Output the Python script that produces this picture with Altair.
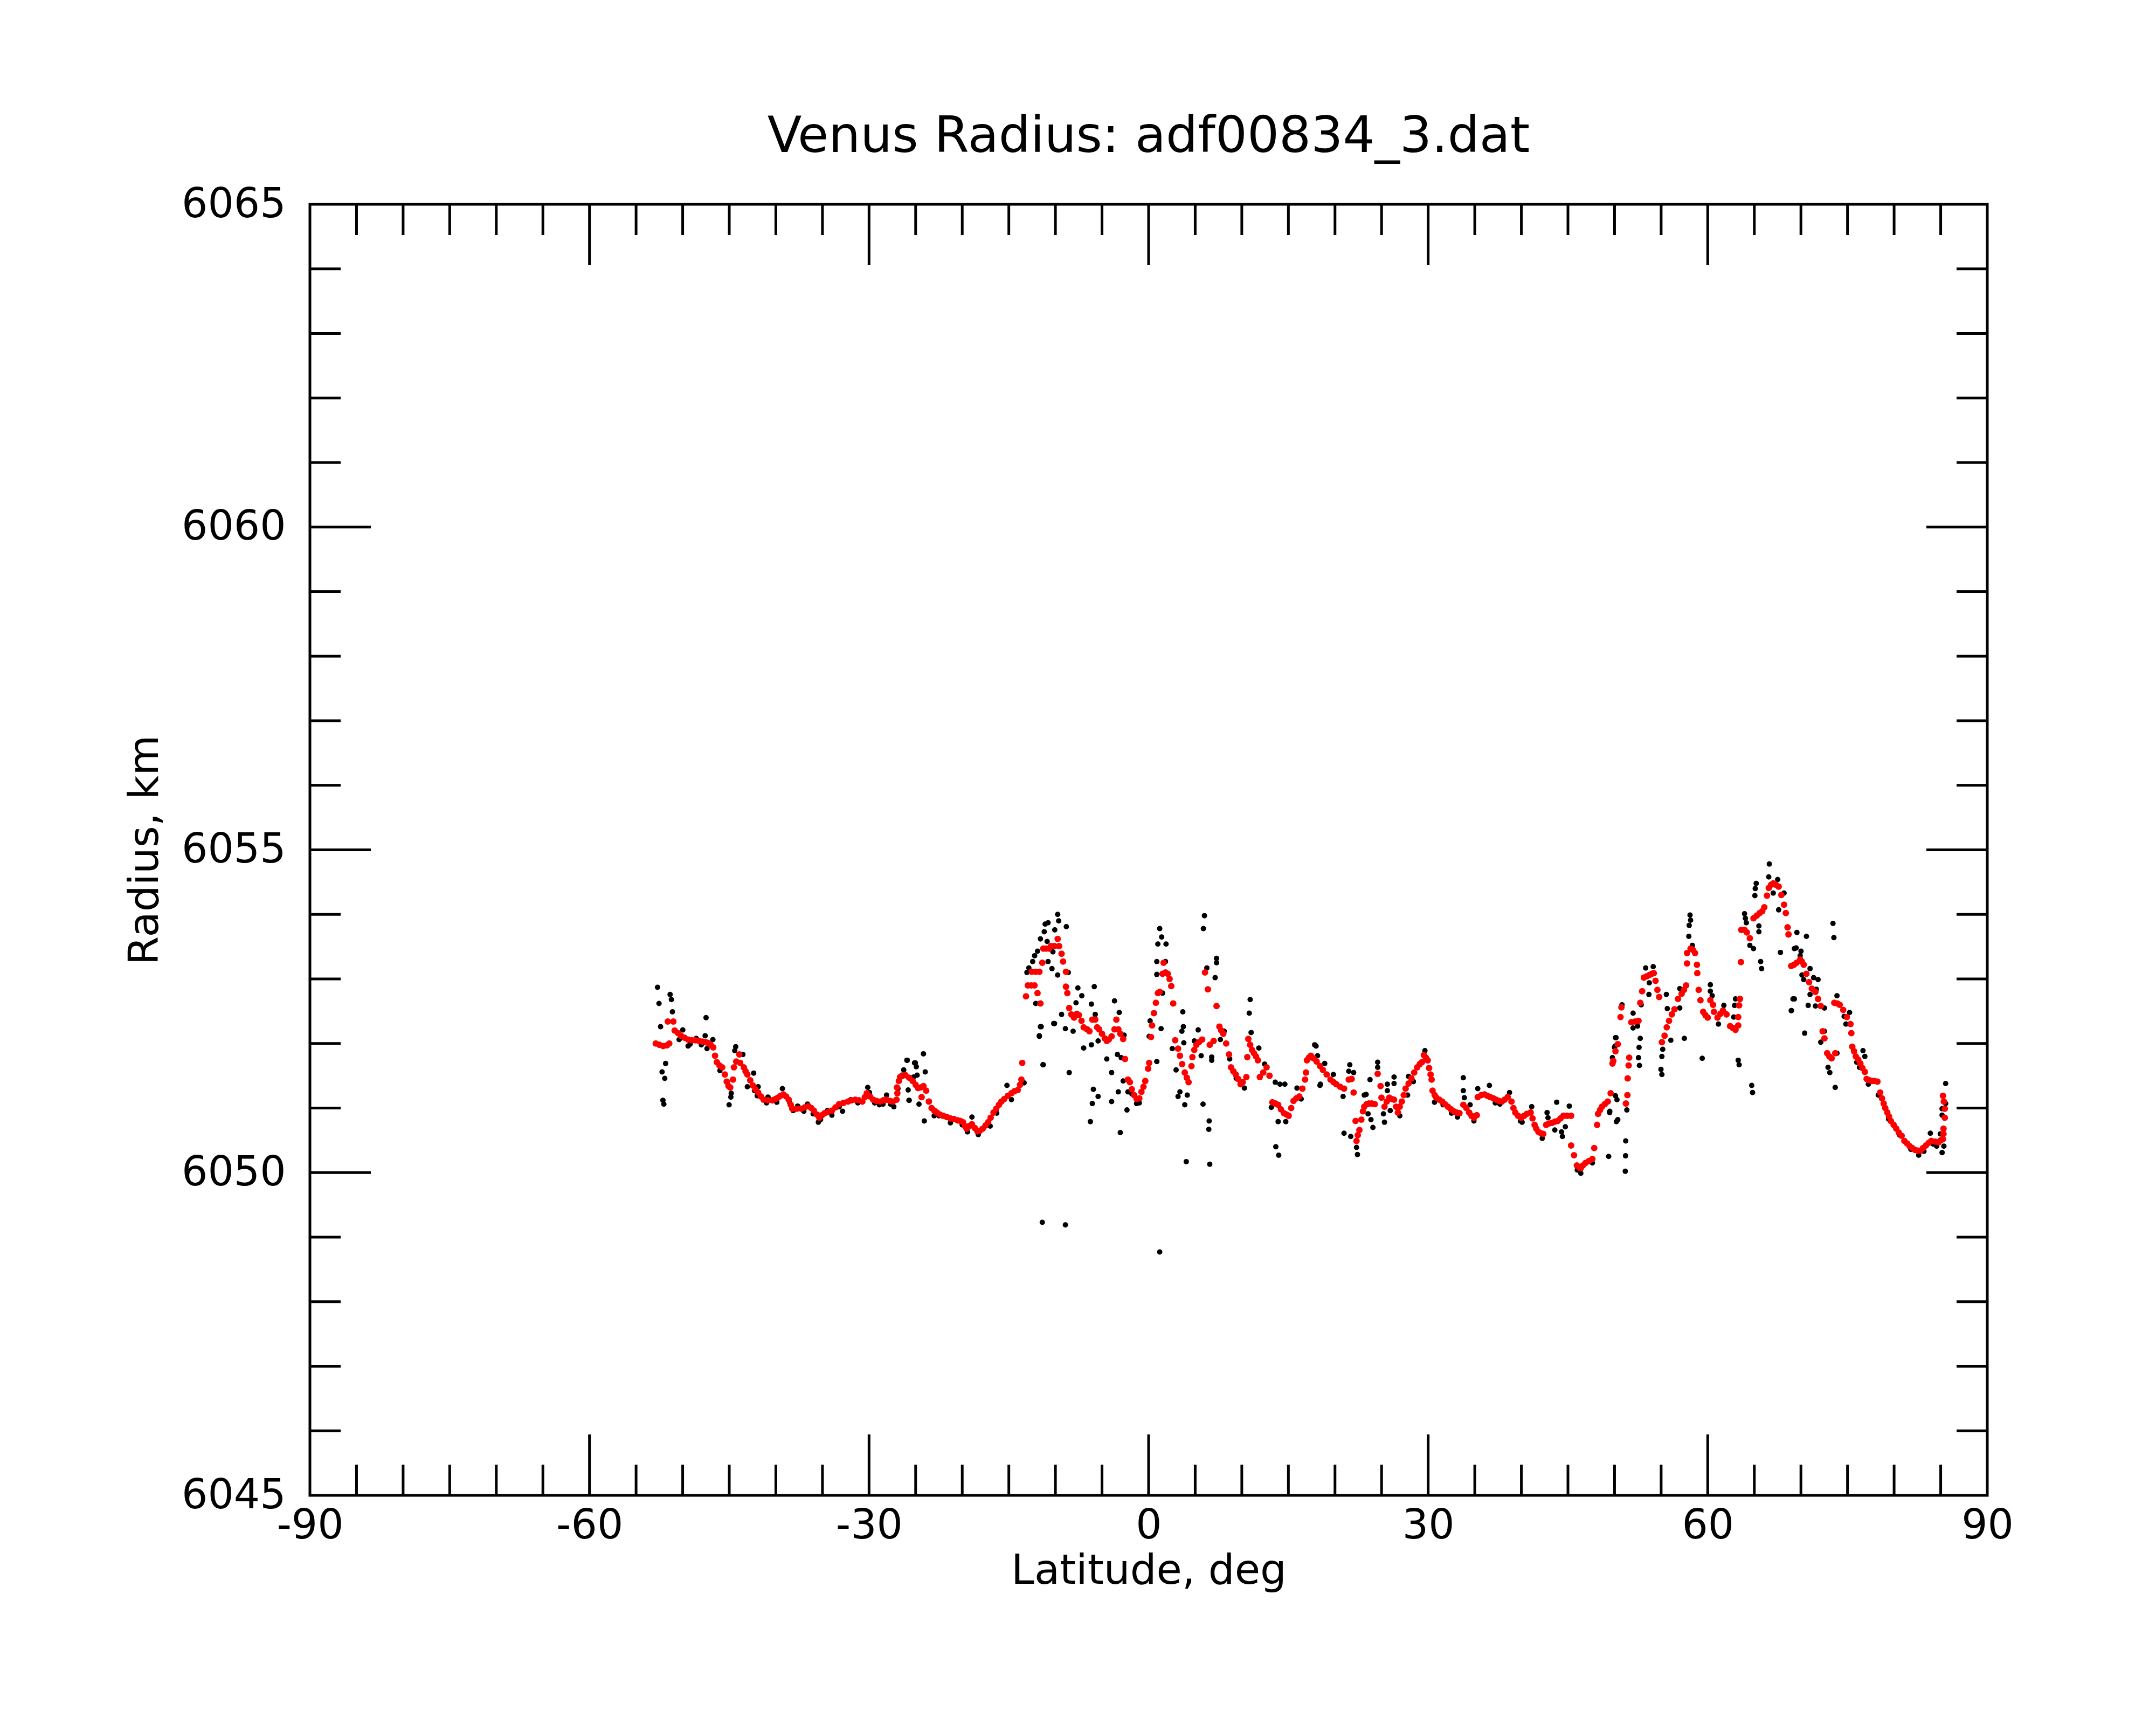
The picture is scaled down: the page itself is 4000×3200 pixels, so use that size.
import altair as alt
import pandas as pd

# ---- data (latitude deg, radius km) ----
red_points = [
    (-52.89, 6052.00), (-52.50, 6051.98), (-52.10, 6051.96), (-51.70, 6051.97), (-51.44, 6052.00),
    (-51.60, 6052.34), (-51.00, 6052.34),
    (-50.86, 6052.20), (-50.50, 6052.16), (-50.19, 6052.12), (-49.80, 6052.09), (-49.42, 6052.06),
    (-49.00, 6052.05), (-48.65, 6052.05), (-48.25, 6052.04), (-47.88, 6052.03), (-47.55, 6052.02),
    (-47.30, 6052.01), (-47.00, 6051.98), (-46.72, 6051.94), (-46.53, 6051.81), (-46.33, 6051.71),
    (-46.05, 6051.66), (-45.76, 6051.63), (-45.47, 6051.52), (-45.27, 6051.41), (-45.08, 6051.34),
    (-44.90, 6051.32), (-44.60, 6051.44), (-44.50, 6051.63), (-44.25, 6051.72), (-43.92, 6051.83),
    (-43.83, 6051.70), (-43.44, 6051.63), (-43.25, 6051.57), (-43.06, 6051.52), (-42.75, 6051.43),
    (-42.48, 6051.35), (-42.20, 6051.29), (-41.90, 6051.24), (-41.60, 6051.18), (-41.32, 6051.13),
    (-40.85, 6051.12), (-40.36, 6051.12), (-40.05, 6051.14), (-39.78, 6051.16), (-39.50, 6051.19),
    (-39.20, 6051.21), (-38.90, 6051.18), (-38.62, 6051.13), (-38.40, 6051.05), (-38.24, 6050.99),
    (-37.75, 6050.99), (-37.27, 6050.99), (-36.90, 6051.01), (-36.50, 6051.03), (-36.20, 6051.00),
    (-35.92, 6050.96), (-35.60, 6050.90), (-35.34, 6050.85), (-35.05, 6050.89), (-34.77, 6050.92),
    (-34.40, 6050.94), (-33.99, 6050.96), (-33.60, 6051.01), (-33.22, 6051.06), (-32.75, 6051.08),
    (-32.26, 6051.10), (-31.90, 6051.12), (-31.49, 6051.13), (-31.10, 6051.12), (-30.72, 6051.10),
    (-30.45, 6051.17), (-30.24, 6051.23), (-29.90, 6051.18), (-29.56, 6051.13), (-29.20, 6051.11),
    (-28.79, 6051.10), (-28.45, 6051.12), (-28.12, 6051.13), (-27.75, 6051.11), (-27.44, 6051.10),
    (-27.05, 6051.13), (-26.96, 6051.23), (-27.00, 6051.32), (-26.80, 6051.42), (-26.67, 6051.48),
    (-26.40, 6051.50), (-26.09, 6051.51), (-25.70, 6051.47), (-25.32, 6051.42),
    (-25.00, 6051.36), (-24.74, 6051.31), (-24.45, 6051.32), (-24.16, 6051.34), (-23.87, 6051.27),
    (-24.36, 6051.17), (-23.58, 6051.10), (-23.29, 6051.00), (-23.00, 6050.96), (-22.72, 6050.93),
    (-22.40, 6050.90), (-22.04, 6050.88), (-21.65, 6050.86), (-21.27, 6050.84), (-20.90, 6050.83),
    (-20.50, 6050.81), (-20.20, 6050.80), (-19.92, 6050.78), (-19.70, 6050.72), (-19.53, 6050.68),
    (-19.25, 6050.72), (-18.96, 6050.75), (-18.65, 6050.69), (-18.38, 6050.64), (-18.10, 6050.65),
    (-17.80, 6050.68), (-17.50, 6050.73), (-17.22, 6050.78), (-16.95, 6050.85), (-16.64, 6050.93),
    (-16.35, 6050.99), (-16.06, 6051.05), (-15.80, 6051.10), (-15.49, 6051.14), (-15.10, 6051.19),
    (-14.72, 6051.23), (-14.40, 6051.26), (-14.04, 6051.28), (-13.80, 6051.36), (-13.65, 6051.44),
    (-13.56, 6051.70),
    (-13.16, 6052.73), (-12.96, 6052.90), (-12.60, 6052.90), (-12.54, 6053.11), (-12.24, 6052.90),
    (-12.13, 6053.11), (-11.92, 6052.78), (-11.72, 6053.11), (-11.61, 6052.62), (-11.41, 6053.25),
    (-11.30, 6053.47), (-11.00, 6053.47), (-10.68, 6053.47), (-10.48, 6053.51), (-10.10, 6053.51),
    (-9.76, 6053.62), (-9.60, 6053.51), (-9.34, 6053.39), (-9.18, 6053.27), (-8.87, 6053.11),
    (-8.87, 6052.88), (-8.72, 6052.78), (-8.52, 6052.55), (-8.30, 6052.45), (-8.00, 6052.40),
    (-7.70, 6052.46), (-7.48, 6052.44), (-7.20, 6052.35), (-6.97, 6052.25), (-6.60, 6052.22),
    (-6.35, 6052.19), (-6.04, 6052.37), (-5.73, 6052.37), (-5.52, 6052.25), (-5.31, 6052.22),
    (-5.00, 6052.15), (-4.70, 6052.08), (-4.49, 6052.04), (-4.28, 6052.06), (-3.97, 6052.11),
    (-3.66, 6052.22), (-3.46, 6052.37), (-3.25, 6052.22), (-3.04, 6052.15), (-2.73, 6052.07),
    (-2.53, 6051.76), (-2.22, 6051.44), (-2.01, 6051.40), (-1.80, 6051.29), (-1.55, 6051.20),
    (-1.29, 6051.14), (-1.00, 6051.15), (-0.77, 6051.25), (-0.55, 6051.33), (-0.36, 6051.42),
    (-0.05, 6051.61), (0.06, 6051.70), (0.26, 6052.10), (0.37, 6052.28), (0.57, 6052.47),
    (0.78, 6052.63), (1.00, 6052.78), (1.19, 6052.80), (1.50, 6053.08), (1.61, 6053.25),
    (1.81, 6053.10), (2.05, 6053.08), (2.25, 6053.00), (2.43, 6052.89), (2.64, 6052.62),
    (2.85, 6052.05), (3.16, 6051.92), (3.36, 6051.81), (3.60, 6051.68), (3.88, 6051.55),
    (4.10, 6051.47), (4.29, 6051.40), (4.60, 6051.65), (4.70, 6051.79), (4.90, 6051.90),
    (5.12, 6051.98), (5.40, 6052.02), (5.74, 6052.06), (6.05, 6053.10), (6.36, 6052.84),
    (6.56, 6051.98), (6.98, 6052.04), (7.29, 6052.58), (7.60, 6052.26), (7.80, 6052.20),
    (8.01, 6052.15), (8.32, 6052.00), (8.63, 6051.83), (8.84, 6051.63), (9.10, 6051.57),
    (9.35, 6051.52), (9.60, 6051.45), (9.87, 6051.37), (10.10, 6051.40), (10.49, 6051.48),
    (10.59, 6051.79), (10.70, 6052.07), (10.90, 6051.98), (11.10, 6051.90), (11.31, 6051.85),
    (11.52, 6051.80), (11.73, 6051.74), (11.93, 6051.48), (12.30, 6051.55), (12.66, 6051.63),
    (12.97, 6051.50), (13.28, 6051.09), (13.60, 6051.07), (13.90, 6051.05), (14.20, 6050.98),
    (14.52, 6050.92), (14.80, 6050.90), (15.03, 6050.88), (15.30, 6051.00), (15.55, 6051.11),
    (15.85, 6051.15), (16.17, 6051.18), (16.50, 6051.30), (16.79, 6051.44), (16.89, 6051.55),
    (16.99, 6051.74), (17.20, 6051.78), (17.41, 6051.81), (17.70, 6051.77), (18.03, 6051.72),
    (18.40, 6051.65), (18.70, 6051.59), (19.11, 6051.52), (19.52, 6051.44), (19.85, 6051.40),
    (20.14, 6051.37), (20.55, 6051.33), (20.97, 6051.30), (21.48, 6051.44), (21.79, 6051.45),
    (22.00, 6051.24), (22.21, 6050.80), (22.31, 6050.49), (22.45, 6050.58), (22.62, 6050.66),
    (22.83, 6050.82), (23.00, 6050.95), (23.14, 6051.02), (23.40, 6051.06), (23.65, 6051.07),
    (23.95, 6051.07), (24.27, 6051.06), (24.58, 6051.53), (24.89, 6051.34), (24.99, 6051.16),
    (25.31, 6051.02), (25.55, 6051.10), (25.82, 6051.16), (26.10, 6051.14), (26.34, 6051.13),
    (26.55, 6051.02), (26.75, 6050.93), (26.95, 6051.02), (27.17, 6051.10), (27.38, 6051.20),
    (27.58, 6051.30), (27.90, 6051.38), (28.20, 6051.46), (28.50, 6051.55), (28.82, 6051.63),
    (29.10, 6051.68), (29.33, 6051.71), (29.54, 6051.82), (29.75, 6051.78), (29.95, 6051.74),
    (30.10, 6051.62), (30.26, 6051.52), (30.37, 6051.44), (30.47, 6051.27), (30.70, 6051.20),
    (30.88, 6051.16), (31.20, 6051.13), (31.50, 6051.10), (31.80, 6051.06), (32.12, 6051.02),
    (32.45, 6050.98), (32.74, 6050.95), (33.05, 6050.93), (33.36, 6050.92), (33.77, 6051.05),
    (34.10, 6051.00), (34.40, 6050.93), (34.65, 6050.88), (34.91, 6050.85), (35.22, 6050.89),
    (35.32, 6051.17), (35.70, 6051.20), (36.05, 6051.21), (36.35, 6051.19), (36.67, 6051.17),
    (37.00, 6051.15), (37.29, 6051.13), (37.60, 6051.11), (37.91, 6051.10), (38.20, 6051.13),
    (38.53, 6051.17), (38.94, 6051.10), (39.15, 6051.00), (39.35, 6050.93), (39.65, 6050.88),
    (39.97, 6050.85), (40.30, 6050.88), (40.59, 6050.91), (41.00, 6050.93), (41.20, 6050.84),
    (41.42, 6050.74), (41.60, 6050.68), (41.83, 6050.63), (42.10, 6050.61), (42.35, 6050.60),
    (42.66, 6050.74), (42.95, 6050.76), (43.28, 6050.77), (43.60, 6050.79), (43.90, 6050.80),
    (44.20, 6050.84), (44.52, 6050.88), (44.90, 6050.88), (45.34, 6050.88), (45.34, 6050.42),
    (45.65, 6050.27), (45.96, 6050.11), (46.20, 6050.08), (46.38, 6050.07), (46.60, 6050.11),
    (46.89, 6050.15), (47.25, 6050.18), (47.62, 6050.21), (47.82, 6050.38), (48.13, 6050.74),
    (48.23, 6050.91), (48.45, 6050.97), (48.65, 6051.02), (48.95, 6051.06), (49.27, 6051.10),
    (49.58, 6051.23), (49.78, 6051.69), (49.87, 6051.73), (50.10, 6051.88), (50.35, 6051.99),
    (50.64, 6052.41), (50.74, 6052.56), (51.22, 6051.07), (51.38, 6051.20), (51.41, 6051.46),
    (51.51, 6051.66), (51.57, 6051.78), (51.80, 6052.33), (52.20, 6052.34), (52.57, 6052.35),
    (52.76, 6052.63), (52.96, 6052.81), (53.15, 6053.02), (53.45, 6053.04), (53.73, 6053.06),
    (54.00, 6053.08), (54.21, 6053.09), (54.40, 6052.97), (54.60, 6052.83), (54.79, 6052.72),
    (55.08, 6052.02), (55.37, 6052.12), (55.60, 6052.25), (55.85, 6052.35), (56.15, 6052.45),
    (56.43, 6052.53), (56.81, 6052.69), (57.20, 6052.77), (57.45, 6052.83), (57.68, 6052.90),
    (57.78, 6053.24), (57.78, 6053.40), (58.16, 6053.47), (58.40, 6053.45), (58.64, 6053.40),
    (58.84, 6053.22), (58.88, 6053.09), (59.03, 6052.83), (59.22, 6052.67), (59.51, 6052.49),
    (59.75, 6052.44), (60.00, 6052.40), (60.28, 6052.67), (60.57, 6052.60), (60.67, 6052.49),
    (61.05, 6052.40), (61.35, 6052.46), (61.63, 6052.51), (62.02, 6052.45), (62.40, 6052.27),
    (62.70, 6052.24), (62.98, 6052.21), (63.27, 6052.28), (63.27, 6052.41), (63.37, 6052.59),
    (63.46, 6052.69), (63.56, 6053.26), (63.60, 6053.76), (63.95, 6053.76), (64.20, 6053.72),
    (64.52, 6053.63), (64.91, 6053.94), (65.25, 6053.98), (65.58, 6054.02), (65.85, 6054.05),
    (66.07, 6054.11), (66.36, 6054.29), (66.55, 6054.41), (66.80, 6054.46), (67.03, 6054.48),
    (67.30, 6054.46), (67.61, 6054.43), (67.90, 6054.30), (68.19, 6054.15), (68.38, 6054.02),
    (68.57, 6053.80), (68.67, 6053.69), (68.96, 6053.20), (69.25, 6053.22), (69.53, 6053.25),
    (69.92, 6053.30), (70.10, 6053.27), (70.30, 6053.22), (70.59, 6053.08), (70.88, 6052.95),
    (71.17, 6052.85), (71.56, 6052.80), (71.84, 6052.69), (72.13, 6052.58), (72.33, 6052.19),
    (72.52, 6052.08), (72.81, 6051.85), (73.05, 6051.80), (73.29, 6051.77), (73.68, 6051.85),
    (73.58, 6052.63), (73.90, 6052.62), (74.16, 6052.60), (74.54, 6052.52), (74.93, 6052.41),
    (75.32, 6052.30), (75.41, 6052.16), (75.51, 6051.95), (75.70, 6051.88), (75.89, 6051.80),
    (76.15, 6051.75), (76.38, 6051.69), (76.60, 6051.62), (76.86, 6051.56), (77.05, 6051.45),
    (77.35, 6051.43), (77.63, 6051.42), (77.90, 6051.42), (78.21, 6051.41), (78.50, 6051.24),
    (78.70, 6051.15), (78.88, 6051.07), (79.05, 6051.00), (79.27, 6050.93), (79.45, 6050.87),
    (79.65, 6050.80), (79.95, 6050.74), (80.23, 6050.68), (80.50, 6050.62), (80.81, 6050.57),
    (81.10, 6050.49), (81.40, 6050.45), (81.68, 6050.41), (81.95, 6050.38), (82.26, 6050.35),
    (82.55, 6050.34), (82.83, 6050.34), (83.10, 6050.38), (83.41, 6050.42), (83.70, 6050.46),
    (83.99, 6050.49), (84.40, 6050.48), (84.76, 6050.47), (85.00, 6050.50), (85.24, 6050.52),
    (85.30, 6050.60), (85.30, 6050.68), (85.44, 6050.85), (85.44, 6050.99), (85.34, 6051.10),
    (85.24, 6051.19),
]

black_points = [
    (-52.70, 6052.87), (-52.54, 6052.62), (-51.35, 6052.76), (-51.21, 6052.68), (-51.10, 6052.49),
    (-52.37, 6052.26), (-51.83, 6051.69), (-52.21, 6051.56), (-51.92, 6051.46), (-52.12, 6051.12),
    (-52.02, 6051.06), (-47.49, 6052.40), (-47.59, 6052.12), (-47.39, 6051.92), (-46.76, 6052.06),
    (-49.99, 6052.21), (-50.38, 6052.06), (-49.42, 6051.96), (-48.55, 6052.08), (-45.02, 6051.05),
    (-44.83, 6051.17), (-44.79, 6051.23), (-44.31, 6051.95), (-44.41, 6051.89), (-43.54, 6051.83),
    (-42.38, 6051.54), (-43.06, 6051.33), (-41.90, 6051.33), (-42.29, 6051.27), (-40.84, 6051.17),
    (-39.30, 6051.30), (-38.14, 6050.96), (-37.66, 6051.03), (-36.60, 6051.06), (-35.44, 6050.78),
    (-34.48, 6050.96), (-33.99, 6050.89), (-32.84, 6050.95), (-31.97, 6051.13), (-30.14, 6051.32),
    (-29.95, 6051.24), (-28.89, 6051.05), (-28.12, 6051.20), (-27.34, 6051.02), (-26.48, 6051.51),
    (-25.94, 6051.74), (-25.12, 6051.70), (-26.28, 6051.59), (-25.71, 6051.12), (-25.80, 6051.28),
    (-25.22, 6051.48), (-49.20, 6051.99), (-48.00, 6051.98), (-46.00, 6051.58), (-42.00, 6051.19),
    (-41.00, 6051.08), (-39.90, 6051.09), (-38.50, 6051.08), (-37.00, 6050.95), (-36.00, 6050.91),
    (-35.20, 6050.82), (-33.20, 6051.02), (-31.20, 6051.08), (-29.40, 6051.08), (-28.50, 6051.06),
    (-27.70, 6051.06), (-26.90, 6051.30),
    (-24.16, 6051.84), (-25.90, 6051.74), (-25.03, 6051.70), (-24.93, 6051.64), (-23.97, 6051.56),
    (-24.84, 6051.51), (-25.70, 6051.12), (-24.64, 6051.06), (-24.07, 6050.80), (-23.01, 6050.88),
    (-21.27, 6050.77), (-18.96, 6050.86), (-18.28, 6050.59), (-19.44, 6050.63), (-15.20, 6051.35),
    (-14.72, 6051.13), (-13.36, 6051.39), (-11.34, 6051.67), (-11.73, 6052.12), (-11.53, 6052.26),
    (-10.18, 6052.31), (-12.11, 6052.62), (-22.50, 6050.88), (-20.00, 6050.74), (-17.00, 6050.72),
    (-16.30, 6050.92),
    (-9.76, 6054.00), (-9.65, 6053.90), (-10.79, 6053.87), (-11.10, 6053.85), (-11.20, 6053.73),
    (-11.61, 6053.62), (-8.83, 6053.81), (-10.07, 6053.76), (-11.92, 6053.43), (-12.23, 6053.36),
    (-12.44, 6053.27), (-12.85, 6053.17), (-13.06, 6053.10), (-10.89, 6053.58), (-10.27, 6053.42),
    (-10.79, 6053.27), (-10.37, 6053.16), (-9.76, 6053.06), (-8.62, 6053.10), (-7.59, 6052.86),
    (-5.83, 6052.88), (-7.17, 6052.74), (-7.79, 6052.63), (-9.34, 6052.45), (-10.10, 6052.31),
    (-11.61, 6052.26), (-11.72, 6052.11), (-8.93, 6052.23), (-8.10, 6052.19), (-6.14, 6052.61),
    (-5.73, 6052.45), (-6.97, 6051.93), (-6.14, 6051.98), (-5.42, 6052.04), (-3.66, 6052.66),
    (-3.15, 6052.48), (-4.49, 6051.76), (-3.97, 6051.55), (-3.35, 6051.83), (-2.94, 6051.78),
    (-2.63, 6052.13), (-11.30, 6051.67), (-8.52, 6051.55), (-2.73, 6051.42), (-3.25, 6051.25),
    (-2.22, 6051.25), (-5.93, 6051.29), (-5.42, 6051.18), (-6.04, 6051.07), (-3.97, 6051.10),
    (-2.32, 6050.97), (-6.25, 6050.79), (-3.04, 6050.62), (-1.29, 6051.07), (-11.41, 6049.23),
    (-8.93, 6049.19), (1.19, 6048.77), (0.06, 6052.11), (0.16, 6052.35), (1.34, 6052.23),
    (0.88, 6053.27), (1.19, 6053.78), (1.40, 6053.65), (0.99, 6053.54), (1.87, 6053.54),
    (1.81, 6053.27), (0.88, 6053.07), (1.50, 6052.78), (0.88, 6051.72), (3.67, 6052.49),
    (3.73, 6052.26), (3.57, 6052.19), (3.78, 6052.01), (2.54, 6051.92), (2.95, 6051.59),
    (3.36, 6051.25), (3.16, 6051.18), (4.15, 6051.20), (3.88, 6051.05), (4.04, 6050.17),
    (5.84, 6051.06), (6.50, 6050.80), (6.46, 6050.67), (6.56, 6050.13), (13.65, 6050.40),
    (13.96, 6050.27), (5.99, 6053.98), (5.88, 6053.78), (6.25, 6053.17), (7.29, 6053.32),
    (7.29, 6053.25), (7.14, 6053.02), (5.32, 6052.21), (4.91, 6052.04), (5.64, 6051.81),
    (6.77, 6051.79), (6.77, 6051.74), (7.70, 6052.06), (8.11, 6052.19), (10.90, 6052.68),
    (10.80, 6052.47), (11.00, 6052.17), (11.83, 6051.93), (10.28, 6051.31), (12.45, 6051.68),
    (13.59, 6051.40), (14.10, 6051.37), (14.62, 6051.37), (15.92, 6051.31), (13.17, 6051.01),
    (13.90, 6050.79), (14.72, 6050.79), (17.82, 6051.98), (18.13, 6051.81), (18.44, 6051.37),
    (16.37, 6051.14), (-1.80, 6051.22), (-1.00, 6051.08), (9.40, 6051.46), (8.70, 6051.76),
    (17.97, 6051.96), (18.90, 6051.69), (18.39, 6051.35), (19.83, 6051.52), (20.87, 6051.18),
    (21.59, 6051.67), (21.48, 6051.57), (22.00, 6051.55), (20.97, 6050.61), (21.69, 6050.56),
    (22.31, 6050.39), (22.41, 6050.28), (23.14, 6051.20), (23.34, 6051.21), (23.76, 6051.44),
    (23.86, 6050.82), (24.07, 6050.70), (23.55, 6050.91), (24.58, 6051.71), (24.58, 6051.63),
    (25.62, 6051.37), (25.62, 6051.27), (26.34, 6051.48), (26.34, 6051.38), (25.20, 6050.91),
    (25.31, 6050.78), (25.93, 6050.96), (26.96, 6050.88), (27.89, 6051.49), (27.79, 6051.20),
    (28.41, 6051.41), (29.65, 6051.89), (30.68, 6051.09), (33.15, 6050.86), (33.77, 6051.47),
    (33.77, 6051.27), (33.88, 6051.16), (34.50, 6051.05), (34.91, 6050.80), (35.32, 6051.30),
    (36.57, 6051.35), (37.70, 6051.06), (38.73, 6051.24), (40.08, 6050.78), (41.11, 6051.02),
    (42.24, 6050.53), (42.76, 6050.93), (42.86, 6050.85), (43.79, 6051.09), (43.59, 6050.66),
    (44.31, 6050.63), (44.41, 6050.56), (45.14, 6051.03), (44.72, 6050.71), (46.38, 6049.99),
    (47.62, 6050.15), (49.37, 6050.25), (49.47, 6050.93), (50.20, 6050.79), (50.10, 6052.09),
    (49.99, 6051.94), (50.10, 6051.19), (51.15, 6050.02), (51.18, 6050.26), (51.20, 6050.49),
    (31.60, 6051.05), (32.50, 6050.92), (37.20, 6051.08), (39.90, 6050.80), (46.00, 6050.04),
    (50.16, 6052.09), (50.06, 6051.96), (49.77, 6051.78), (50.26, 6051.13), (49.49, 6050.95),
    (50.35, 6050.82), (51.32, 6050.97), (53.34, 6053.17), (54.15, 6053.19), (53.73, 6052.94),
    (53.69, 6052.76), (52.86, 6052.60), (50.80, 6052.60), (51.99, 6052.47), (51.99, 6052.24),
    (52.47, 6052.27), (52.76, 6052.08), (52.63, 6051.94), (52.57, 6051.78), (52.67, 6051.66),
    (55.08, 6051.80), (54.98, 6051.60), (55.08, 6051.52), (55.17, 6051.91), (56.04, 6052.05),
    (55.56, 6052.76), (55.66, 6052.54), (57.00, 6052.85), (57.00, 6052.55), (57.49, 6052.08),
    (59.41, 6051.77), (60.28, 6052.91), (60.28, 6052.81), (60.48, 6052.74), (61.15, 6052.30),
    (61.73, 6052.59), (63.27, 6051.74), (63.37, 6051.67), (62.98, 6052.69), (62.88, 6052.59),
    (62.79, 6052.41), (64.72, 6051.35), (64.81, 6051.24), (58.10, 6053.99), (58.16, 6053.91),
    (58.01, 6053.83), (57.97, 6053.66), (58.35, 6053.52), (66.61, 6054.78), (66.55, 6054.58),
    (65.20, 6054.48), (65.10, 6054.40), (65.06, 6054.29), (67.51, 6054.54), (68.19, 6054.33),
    (67.61, 6054.07), (67.03, 6054.33), (63.95, 6054.01), (64.04, 6053.94), (64.14, 6053.87),
    (65.49, 6053.82), (65.49, 6053.73), (64.52, 6053.52), (64.91, 6053.47), (67.80, 6053.41),
    (65.68, 6053.27), (65.78, 6053.16), (68.96, 6052.51), (69.15, 6052.69), (69.30, 6053.47),
    (73.44, 6053.86), (73.54, 6053.64), (69.57, 6053.72), (70.59, 6053.66), (69.49, 6053.48),
    (70.01, 6053.43), (69.92, 6053.36), (70.98, 6053.16), (70.11, 6053.06), (70.30, 6052.99),
    (71.36, 6053.02), (71.84, 6052.99), (71.65, 6052.84), (70.98, 6052.76), (69.30, 6052.69),
    (68.99, 6052.51), (70.78, 6052.59), (71.56, 6052.58), (72.52, 6052.55), (70.40, 6052.16),
    (73.87, 6052.74), (75.22, 6052.48), (74.64, 6052.42), (74.83, 6052.30), (72.52, 6052.19),
    (72.13, 6052.02), (73.87, 6051.85), (72.91, 6051.63), (73.10, 6051.55), (73.68, 6051.32),
    (76.66, 6051.89), (76.86, 6051.80), (75.99, 6051.71), (76.28, 6051.63), (77.24, 6051.37),
    (78.30, 6051.20), (83.89, 6050.61), (84.96, 6050.60), (85.53, 6051.38), (85.53, 6051.07),
    (85.15, 6050.99), (85.15, 6050.89), (85.15, 6050.31), (82.64, 6050.27), (84.57, 6050.41),
    (85.34, 6050.41), (79.40, 6050.83), (80.60, 6050.58), (81.80, 6050.36), (83.20, 6050.33),
    (84.20, 6050.44),
]

x_label_values = [-90, -60, -30, 0, 30, 60, 90]
y_label_values = [6045, 6050, 6055, 6060, 6065]
x_major_ticks = [-60, -30, 0, 30, 60]
x_minor_ticks = [v for v in range(-85, 90, 5) if v % 30 != 0]
y_major_ticks = [6050, 6055, 6060]
y_minor_ticks = [v for v in range(6046, 6065) if v % 5 != 0]

title_text = ["Venus Radius: adf00834_3.dat"]
x_title = "Latitude, deg"
y_title = "Radius, km"

# ---- layout ----
W, H = 3112, 2395
FONT = "DejaVu Sans"
MINOR, MAJOR = 57, 113
LW = 5

red_df = pd.DataFrame(red_points, columns=["lat", "r"])
blk_df = pd.DataFrame(black_points, columns=["lat", "r"])

xs = alt.Scale(domain=[-90, 90], nice=False, zero=False)
ys = alt.Scale(domain=[6045, 6065], nice=False, zero=False)

x_axis = alt.Axis(
    values=x_label_values, ticks=False, tickSize=0, domain=False, grid=False,
    labelFontSize=76, labelFont=FONT, labelColor="black", labelPadding=19,
    labelFlush=False, labelOverlap=False, labelLimit=1000,
    labelExpr="datum.value + ''",
    title=x_title, titleFont=FONT, titleFontSize=77, titleFontWeight="normal",
    titleColor="black", titleX=W / 2, titleY=163, titleAlign="center",
    titleBaseline="alphabetic",
)
y_axis = alt.Axis(
    values=y_label_values, ticks=False, tickSize=0, domain=False, grid=False,
    labelFontSize=76, labelFont=FONT, labelColor="black", labelPadding=45,
    labelFlush=False, labelOverlap=False, labelLimit=1000,
    labelExpr="datum.value + ''",
    title=y_title, titleFont=FONT, titleFontSize=77, titleFontWeight="normal",
    titleColor="black", titleX=-283, titleY=H / 2, titleAngle=270,
    titleAlign="center", titleBaseline="alphabetic",
)

X = alt.X("lat:Q", scale=xs, axis=x_axis)
Y = alt.Y("r:Q", scale=ys, axis=y_axis)

black_layer = alt.Chart(blk_df).mark_circle(color="black", size=100, opacity=1).encode(x=X, y=Y)
red_layer = alt.Chart(red_df).mark_circle(color="#ff0000", size=145, opacity=1).encode(x=X, y=Y)


def xticks(vals, length):
    df = pd.DataFrame({"lat": vals})
    base = alt.Chart(df).mark_rule(color="black", strokeWidth=LW, strokeCap="butt")
    bottom = base.encode(x=X, y=alt.value(H), y2=alt.value(H - length))
    top = base.encode(x=X, y=alt.value(0), y2=alt.value(length))
    return [bottom, top]


def yticks(vals, length):
    df = pd.DataFrame({"r": vals})
    base = alt.Chart(df).mark_rule(color="black", strokeWidth=LW, strokeCap="butt")
    left = base.encode(y=Y, x=alt.value(0), x2=alt.value(length))
    right = base.encode(y=Y, x=alt.value(W), x2=alt.value(W - length))
    return [left, right]


tick_layers = (xticks(x_minor_ticks, MINOR) + xticks(x_major_ticks, MAJOR)
               + yticks(y_minor_ticks, MINOR) + yticks(y_major_ticks, MAJOR))

title_layer = alt.Chart(pd.DataFrame({"t": title_text})).mark_text(
    font=FONT, fontSize=93, color="black", align="center", baseline="alphabetic"
).encode(text="t:N", x=alt.value(W / 2), y=alt.value(-97))

chart = alt.layer(
    black_layer, red_layer, *tick_layers, title_layer
).properties(
    width=W,
    height=H,
    autosize=alt.AutoSizeParams(type="none"),
    padding={"left": 567, "top": 371, "right": 290, "bottom": 400},
    background="white",
).configure_view(
    stroke="black", strokeWidth=LW,
)

chart.save("out.html", embed_options={"renderer": "svg", "actions": False})
